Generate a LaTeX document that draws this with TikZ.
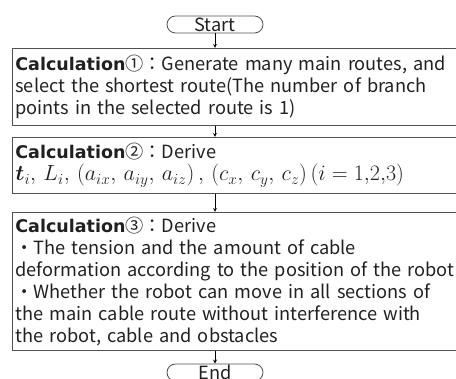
\documentclass[tikz,border=0pt]{standalone}
\usepackage{fix-cm}
\usepackage{amsmath}
\usepackage{fontspec}
\setmainfont{Noto Sans CJK JP}
\newfontfamily\headfont{DejaVu Sans}
\definecolor{ink}{HTML}{202020}
\definecolor{rim}{HTML}{505050}
\newcommand\calcname{{\headfont\bfseries\fontsize{17.5}{22}\selectfont Calculation}}
\tikzset{
  term/.style={draw=rim, rounded corners=8.5pt, minimum width=96pt, minimum height=17pt, inner sep=0pt},
  calc/.style={draw=rim, anchor=north west, text width=447pt, align=left, inner xsep=3pt, inner ysep=2pt, text=ink}
}
\begin{document}
\begin{tikzpicture}[>=stealth, x=1pt, y=-1pt, line width=.8pt, font=\fontsize{18.2}{22}\selectfont, text=ink]
\useasboundingbox (0,0) rectangle (456,379);
\node[term](start) at (215,24.5) {Start};
\node[calc, minimum height=77pt](c1) at (12,48) {\calcname①：Generate many main routes, and\\select the shortest route(The number of branch\\points in the selected route is 1)};
\node[calc, minimum height=56pt](c2) at (12,137) {\calcname②：Derive\\{\fontsize{22}{22}\selectfont$\boldsymbol{t}_i,\, L_i,\, \left(a_{ix},\, a_{iy},\, a_{iz}\right),\, \left(c_x,\, c_y,\, c_z\right)(i = 1{,}2{,}3)$}};
\node[calc, minimum height=138pt](c3) at (12,212) {\calcname③：Derive\\・The tension and the amount of cable\\deformation according to the position of the robot\\・Whether the robot can move in all sections of\\the main cable route without interference with\\the robot, cable and obstacles};
\node[term](end) at (215,372.5) {End};
\draw[->](start)--(start|-c1.north);
\draw[->](start|-c1.south)--(start|-c2.north);
\draw[->](start|-c2.south)--(start|-c3.north);
\draw[->](start|-c3.south)--(end);
\end{tikzpicture}
\end{document}
